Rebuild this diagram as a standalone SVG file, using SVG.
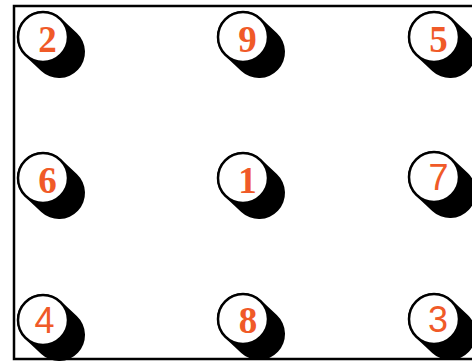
<svg xmlns="http://www.w3.org/2000/svg" width="472" height="361" viewBox="0 0 472 361">
  <style>
    .frame { fill: none; stroke: #000; stroke-width: 2.5; }
    .shadow { stroke: #000; stroke-width: 52; stroke-linecap: round; fill: none; }
    .disc { fill: #fff; stroke: #000; stroke-width: 2.5; }
    .lbl { fill: #f05a28; font-size: 37px; font-weight: bold; text-anchor: middle; font-family: "Liberation Serif", "Times New Roman", serif; }
    .sans { font-family: "Liberation Sans", Arial, sans-serif; font-weight: normal; font-size: 36px; }
  </style>
  <rect class="frame" x="14" y="6" width="480" height="353"/>
  <g id="node-2" transform="translate(43,37)">
    <line class="shadow" x1="0" y1="0" x2="16" y2="15"/>
    <circle class="disc" r="25"/>
    <text class="lbl" x="4.5" y="15">2</text>
  </g>
  <g id="node-9" transform="translate(243,37)">
    <line class="shadow" x1="0" y1="0" x2="16" y2="15"/>
    <circle class="disc" r="25"/>
    <text class="lbl" x="4.5" y="15">9</text>
  </g>
  <g id="node-5" transform="translate(434,37)">
    <line class="shadow" x1="0" y1="0" x2="16" y2="15"/>
    <circle class="disc" r="25"/>
    <text class="lbl" x="4.5" y="15">5</text>
  </g>
  <g id="node-6" transform="translate(43,178)">
    <line class="shadow" x1="0" y1="0" x2="16" y2="15"/>
    <circle class="disc" r="25"/>
    <text class="lbl" x="4.5" y="15">6</text>
  </g>
  <g id="node-1" transform="translate(243,178)">
    <line class="shadow" x1="0" y1="0" x2="16" y2="15"/>
    <circle class="disc" r="25"/>
    <text class="lbl" x="4.5" y="15">1</text>
  </g>
  <g id="node-7" transform="translate(434,177)">
    <line class="shadow" x1="0" y1="0" x2="16" y2="15"/>
    <circle class="disc" r="25"/>
    <text class="lbl sans" x="4.5" y="13">7</text>
  </g>
  <g id="node-4" transform="translate(43,320)">
    <line class="shadow" x1="0" y1="0" x2="16" y2="15"/>
    <circle class="disc" r="25"/>
    <text class="lbl sans" x="1.5" y="13">4</text>
  </g>
  <g id="node-8" transform="translate(243,319)">
    <line class="shadow" x1="0" y1="0" x2="16" y2="15"/>
    <circle class="disc" r="25"/>
    <text class="lbl" x="5" y="14">8</text>
  </g>
  <g id="node-3" transform="translate(434,319)">
    <line class="shadow" x1="0" y1="0" x2="16" y2="15"/>
    <circle class="disc" r="25"/>
    <text class="lbl sans" x="4" y="13">3</text>
  </g>
</svg>
